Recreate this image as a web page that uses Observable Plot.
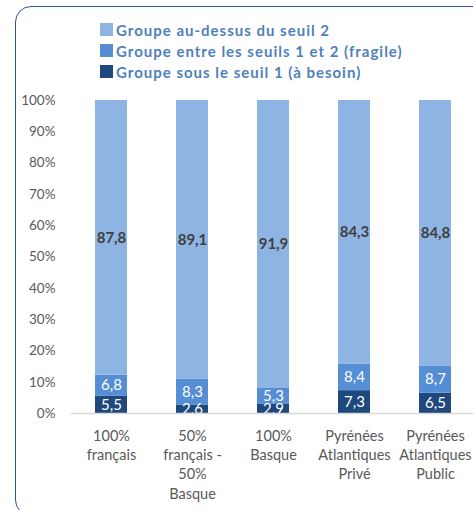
<!DOCTYPE html>
<html>
<head>
<meta charset="utf-8">
<script src="https://cdn.jsdelivr.net/npm/d3@7"></script>
<script src="https://cdn.jsdelivr.net/npm/@observablehq/plot@0.6"></script>
<style>
  html, body { margin: 0; padding: 0; background: #fff; overflow: hidden; width: 473px; height: 510px; }
  #wrap { position: relative; width: 473px; height: 510px; font-family: Lato, "Open Sans", sans-serif; }
  #frame { position: absolute; left: 15px; top: 6px; width: 480px; height: 510px; border: 1.5px solid #2F5597; border-radius: 16px; box-sizing: border-box; }
  #legend { position: absolute; left: 100px; top: 19px; }
  .item { display: flex; align-items: center; height: 21px; font-weight: bold; font-size: 15px; letter-spacing: 1px; color: #4F81BD; white-space: nowrap; }
  .sw { width: 13px; height: 13px; margin-right: 3px; }
  #chart { position: absolute; left: 0; top: 90px; }
</style>
</head>
<body>
<div id="wrap">
  <div id="frame"></div>
  <div id="legend"></div>
  <div id="chart"></div>
</div>
<script>
const categories = ["100%\nfrançais", "50%\nfrançais -\n50%\nBasque", "100%\nBasque", "Pyrénées\nAtlantiques\nPrivé", "Pyrénées\nAtlantiques\nPublic"];
const seriesNames = ["Groupe sous le seuil 1 (à besoin)", "Groupe entre les seuils 1 et 2 (fragile)", "Groupe au-dessus du seuil 2"];
const seriesColors = ["#1F497D", "#558ED5", "#8EB4E3"];
const sousSeuil1 = [5.5, 2.6, 2.9, 7.3, 6.5];
const entreSeuils = [6.8, 8.3, 5.3, 8.4, 8.7];
const auDessus = [87.8, 89.1, 91.9, 84.3, 84.8];
const yTicks = [0, 0.1, 0.2, 0.3, 0.4, 0.5, 0.6, 0.7, 0.8, 0.9, 1];

const seriesValues = [sousSeuil1, entreSeuils, auDessus];
const data = [];
seriesNames.forEach((s, si) => categories.forEach((c, ci) => data.push({cat: c, series: s, value: seriesValues[si][ci]})));

// legend (top-down: reverse order)
const legend = document.getElementById("legend");
[2, 1, 0].forEach(i => {
  const d = document.createElement("div");
  d.className = "item";
  d.innerHTML = `<span class="sw" style="background:${seriesColors[i]}"></span><span>${seriesNames[i]}</span>`;
  legend.appendChild(d);
});

const fmt = v => v.toFixed(1).replace(".", ",");
const stackOpts = {x: "cat", y: "value", z: "series", offset: "normalize"};

const plot = Plot.plot({
  width: 473,
  height: 420,
  marginTop: 10,
  marginBottom: 97,
  marginLeft: 71,
  marginRight: 0,
  style: {fontFamily: "Lato, 'Open Sans', sans-serif", background: "transparent"},
  x: {domain: categories, range: [70.5, 475.5], paddingInner: 0.6, paddingOuter: 0.3, label: null},
  y: {domain: [0, 1], label: null},
  color: {domain: seriesNames, range: seriesColors},
  marks: [
    Plot.barY(data, Plot.stackY({...stackOpts, fill: "series"})),
    Plot.text(data, Plot.stackY({...stackOpts,
      text: d => d.series === seriesNames[2] ? fmt(d.value) : null,
      fill: "#404040", fontWeight: "bold", fontSize: 15})),
    Plot.text(data, Plot.stackY({...stackOpts,
      text: d => d.series !== seriesNames[2] ? fmt(d.value) : null,
      fill: "#ffffff", fontSize: 15, clip: true})),
    Plot.ruleY([0], {stroke: "#D9D9D9", strokeWidth: 1.5}),
    Plot.axisY({ticks: yTicks, tickFormat: d => Math.round(d * 100) + "%", tickSize: 0, tickPadding: 16, fontSize: 13.5, color: "#595959"}),
    Plot.axisX({tickSize: 0, tickPadding: 14, fontSize: 14.5, color: "#595959", lineHeight: 1.32})
  ]
});
document.getElementById("chart").appendChild(plot);
</script>
</body>
</html>
